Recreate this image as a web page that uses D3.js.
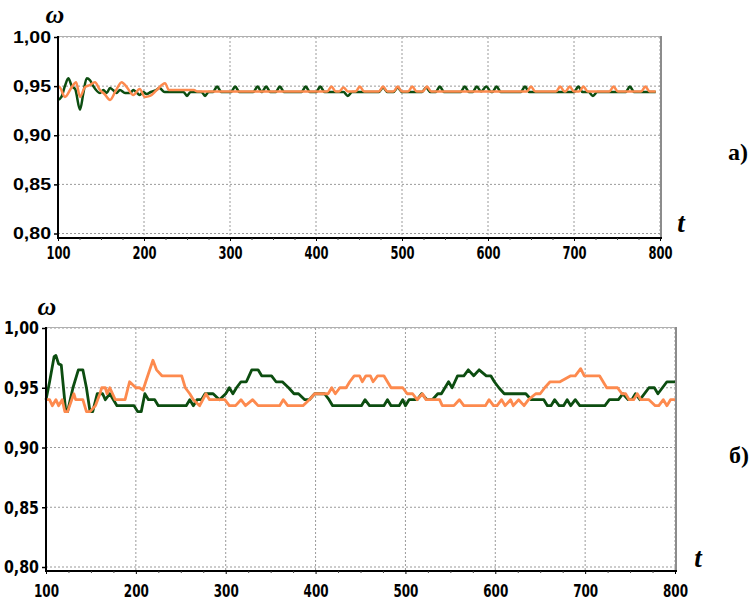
<!DOCTYPE html>
<html>
<head>
<meta charset="utf-8">
<script src="https://cdn.jsdelivr.net/npm/d3@7"></script>
<style>
  html, body { margin: 0; padding: 0; background: #fff; }
  svg { display: block; }
</style>
</head>
<body>
<svg id="chart" width="754" height="600"></svg>
<script>
// ---------- DATA ----------
const xTicks = [100, 200, 300, 400, 500, 600, 700, 800];
const yTicks = [0.80, 0.85, 0.90, 0.95, 1.00];
const xMinorTicks = [125,150,175,225,250,275,325,350,375,425,450,475,525,550,575,625,650,675,725,750,775];

// Panel а) — [t, ω]
const greenA = [
  [100,0.936],[104,0.939],[108,0.950],[112,0.958],[116,0.950],[120,0.947],[125.6,0.926],[129.5,0.943],
  [133.4,0.958],[137.2,0.956],[141,0.950],[148.8,0.943],[152.7,0.946],[156.6,0.943],[160.5,0.948],
  [164,0.946],[168,0.943],[172,0.946],[178,0.943],[184,0.943],[187.6,0.946],[191,0.944],[195,0.941],
  [199,0.944],[203,0.942],[208,0.944],[214,0.946],[218,0.948],[224,0.944],[246,0.944],[250,0.940],
  [254,0.944],[267,0.944],[271,0.940],[275,0.944],[280,0.944],[285,0.9495],[290,0.944],[301,0.944],
  [306,0.9495],[311,0.944],[327,0.944],[332,0.9495],[337,0.944],[342,0.9495],[347,0.944],[353,0.944],
  [358,0.9495],[363,0.944],[383,0.944],[388,0.9495],[393,0.944],[400,0.944],[405,0.9495],[410,0.944],
  [432,0.944],[437,0.940],[442,0.944],[473,0.944],[478,0.9485],[483,0.944],[490,0.944],[495,0.9485],
  [500,0.944],[523,0.944],[528,0.9485],[533,0.944],[539,0.944],[544,0.9495],[549,0.944],[568,0.944],
  [573,0.9495],[578,0.944],[582,0.944],[587,0.9495],[592,0.9445],[598,0.9495],[603,0.9445],[605,0.944],
  [610,0.9495],[615,0.944],[638,0.944],[643,0.9495],[648,0.944],[700,0.944],[705,0.9495],[710,0.944],
  [717,0.944],[722,0.940],[727,0.944],[760,0.944],[765,0.9495],[770,0.944],[795,0.944]
];
const orangeA = [
  [100,0.948],[101.6,0.949],[108,0.939],[116,0.949],[121,0.954],[125.6,0.939],[131.4,0.949],[137,0.951],
  [143,0.954],[148.8,0.946],[154,0.942],[160.5,0.936],[167,0.945],[174,0.954],[180,0.949],[187.6,0.941],
  [195,0.947],[201,0.939],[207,0.940],[214.8,0.946],[224.4,0.953],[229,0.946],[258,0.946],[262,0.9445],
  [413,0.9445],[418,0.9495],[423,0.9445],[427,0.9445],[432,0.9485],[437,0.9445],[446,0.9445],[451,0.9495],
  [456,0.9445],[473,0.9445],[478,0.9495],[483,0.9445],[490,0.9445],[495,0.9495],[500,0.9445],[507,0.9445],
  [512,0.9495],[517,0.9445],[524,0.9445],[529,0.9495],[534,0.9445],[645,0.9445],[650,0.9495],[655,0.9445],
  [679,0.9445],[684,0.9495],[689,0.9445],[690,0.9445],[695,0.9495],[700,0.9445],[706,0.9445],[711,0.9495],
  [716,0.9445],[741,0.9445],[746,0.9495],[751,0.9445],[778,0.9445],[783,0.9495],[788,0.9445],[795,0.9445]
];

// Panel б) — [t, ω]
const greenB = [
  [100,0.94],[104,0.955],[109,0.976],[111,0.977],[114,0.970],[117,0.969],[122,0.93],[124,0.93],[130,0.95],
  [136,0.965],[141,0.965],[145,0.95],[149,0.93],[152,0.93],[157,0.945],[163,0.945],[166,0.94],[171,0.945],
  [175,0.94],[179,0.935],[198,0.935],[202,0.93],[206,0.93],[210,0.945],[214,0.94],[221,0.94],[225,0.935],
  [256,0.935],[260,0.94],[264,0.935],[268,0.94],[273,0.94],[277,0.945],[286,0.945],[293,0.94],[300,0.945],
  [304,0.95],[308,0.945],[312,0.95],[317,0.955],[323,0.955],[329,0.965],[336,0.965],[340,0.96],[351,0.96],
  [356,0.955],[363,0.955],[370,0.95],[376,0.945],[381,0.945],[388,0.94],[393,0.94],[399,0.945],[410,0.945],
  [415,0.94],[419,0.935],[451,0.935],[455,0.94],[460,0.935],[476,0.935],[480,0.94],[484,0.935],[493,0.935],
  [497,0.94],[500,0.935],[504,0.94],[513,0.94],[518,0.945],[524,0.94],[530,0.94],[536,0.945],[540,0.945],
  [544,0.95],[548,0.955],[552,0.95],[558,0.96],[565,0.96],[570,0.965],[576,0.96],[582,0.965],[590,0.96],
  [595,0.96],[599,0.955],[604,0.95],[610,0.945],[634,0.945],[640,0.94],[654,0.94],[658,0.935],[662,0.935],
  [666,0.94],[671,0.935],[676,0.935],[680,0.94],[684,0.935],[689,0.94],[694,0.935],[722,0.935],[727,0.94],
  [737,0.94],[742,0.945],[748,0.94],[752,0.94],[756,0.945],[761,0.94],[771,0.95],[777,0.95],[781,0.945],
  [786,0.95],[791,0.955],[800,0.955]
];
const orangeB = [
  [100,0.94],[104,0.94],[107,0.935],[111,0.94],[114,0.935],[118,0.94],[121,0.93],[124,0.93],[131,0.945],
  [133,0.94],[141,0.94],[145,0.93],[149,0.93],[155,0.935],[160,0.945],[162,0.95],[166,0.95],[168,0.945],
  [171,0.95],[177,0.94],[188,0.94],[193,0.955],[200,0.95],[204,0.95],[208,0.948],[211,0.955],[219,0.973],
  [223,0.965],[229,0.96],[251,0.96],[255,0.95],[260,0.945],[264,0.94],[271,0.935],[278,0.945],[282,0.94],
  [299,0.94],[304,0.935],[311,0.935],[317,0.94],[322,0.935],[330,0.94],[336,0.935],[360,0.935],[364,0.94],
  [369,0.935],[386,0.935],[393,0.94],[399,0.945],[414,0.945],[418,0.95],[422,0.945],[427,0.95],[434,0.95],
  [438,0.955],[443,0.96],[449,0.96],[452,0.955],[456,0.96],[461,0.96],[464,0.955],[469,0.96],[476,0.96],
  [480,0.955],[484,0.95],[497,0.95],[502,0.945],[508,0.945],[513,0.94],[519,0.945],[523,0.94],[538,0.94],
  [541,0.935],[554,0.935],[560,0.94],[565,0.935],[589,0.935],[593,0.94],[598,0.935],[602,0.935],[607,0.94],
  [611,0.935],[617,0.94],[620,0.935],[626,0.94],[632,0.935],[637,0.94],[645,0.945],[650,0.945],[655,0.95],
  [661,0.955],[667,0.955],[672,0.955],[684,0.96],[689,0.96],[695,0.966],[699,0.96],[716,0.96],[720,0.955],
  [724,0.95],[736,0.95],[741,0.945],[745,0.945],[749,0.94],[754,0.94],[758,0.945],[762,0.94],[771,0.94],
  [778,0.935],[782,0.935],[787,0.94],[791,0.935],[795,0.94],[800,0.94]
];

// ---------- STYLE ----------
const GREEN = "#0c4d10";
const ORANGE = "#fd8a4e";
const narrow = "'Liberation Sans Narrow','Arial Narrow','DejaVu Sans Condensed',sans-serif";
const wide = "'Liberation Sans',Arial,sans-serif";
const serif = "'Liberation Serif','Times New Roman',serif";

const svg = d3.select("#chart");
const fmt = v => d3.format(".2f")(v).replace(".", ",");

const panels = [
  { left: 58, right: 660, top: 37, y80: 233.5, bottom: 238, green: greenA, orange: orangeA,
    curve: d3.curveMonotoneX, lw: 2.5,
    yFont: wide, yFs: 16, yLen: 38, xFs: 18, xLen: 24, xBase: 259,
    omega: [55, 23], tPos: [681, 232], tag: "а)", tagPos: [738, 160] },
  { left: 46, right: 675, top: 328, y80: 567, bottom: 571, green: greenB, orange: orangeB,
    curve: d3.curveLinear, lw: 2.8,
    yFont: narrow, yFs: 18, yLen: 35, xFs: 18, xLen: 25, xBase: 597,
    omega: [47, 315], tPos: [698, 567], tag: "б)", tagPos: [739, 463] }
];

panels.forEach(p => {
  const x = d3.scaleLinear().domain([100, 800]).range([p.left, p.right]);
  const y = d3.scaleLinear().domain([0.80, 1.00]).range([p.y80, p.top]);
  const g = svg.append("g");

  // grid
  g.append("g").selectAll("line").data(xTicks.slice(1)).join("line")
    .attr("x1", d => x(d)).attr("x2", d => x(d))
    .attr("y1", p.top).attr("y2", p.bottom)
    .attr("stroke", "#9a9a9a").attr("stroke-width", 1).attr("stroke-dasharray", "2,2");
  g.append("g").selectAll("line").data(yTicks).join("line")
    .attr("x1", p.left).attr("x2", p.right)
    .attr("y1", d => y(d)).attr("y2", d => y(d))
    .attr("stroke", "#9a9a9a").attr("stroke-width", 1).attr("stroke-dasharray", "2,2");

  // frame top/right (gray)
  g.append("line").attr("x1", p.left).attr("x2", p.right + 1).attr("y1", p.top - 0.5).attr("y2", p.top - 0.5)
    .attr("stroke", "#b0b0b0").attr("stroke-width", 1);
  g.append("line").attr("x1", p.right + 1).attr("x2", p.right + 1).attr("y1", p.top - 1).attr("y2", p.bottom + 1)
    .attr("stroke", "#8c8c8c").attr("stroke-width", 2);

  // series
  const line = d3.line().x(d => x(d[0])).y(d => y(d[1])).curve(p.curve);
  g.append("path").datum(p.green).attr("d", line).attr("fill", "none")
    .attr("stroke", GREEN).attr("stroke-width", p.lw).attr("stroke-linejoin", "round");
  g.append("path").datum(p.orange).attr("d", line).attr("fill", "none")
    .attr("stroke", ORANGE).attr("stroke-width", p.lw).attr("stroke-linejoin", "round");

  // left axis
  const ya = g.append("g").attr("transform", `translate(${p.left},0)`)
    .call(d3.axisLeft(y).tickValues(yTicks).tickSize(4).tickPadding(3).tickFormat(fmt));
  ya.select(".domain").attr("d", `M0,${p.top - 1}V${p.bottom + 1}`).attr("stroke", "#000").attr("stroke-width", 2);
  ya.selectAll(".tick line").attr("stroke", "#000").attr("stroke-width", 1.5);
  ya.selectAll(".tick text")
    .attr("font-family", p.yFont).attr("font-weight", "bold").attr("font-size", p.yFs).attr("fill", "#000")
    .attr("textLength", p.yLen).attr("lengthAdjust", "spacingAndGlyphs");

  // bottom axis
  const xa = g.append("g").attr("transform", `translate(0,${p.bottom})`)
    .call(d3.axisBottom(x).tickValues(xTicks).tickSize(3).tickPadding(5).tickFormat(d3.format("d")));
  xa.select(".domain").attr("d", `M${p.left - 1},0H${p.right + 2}`).attr("stroke", "#000").attr("stroke-width", 2);
  xa.selectAll(".tick line").attr("stroke", "#000").attr("stroke-width", 1);
  xa.selectAll(".tick text")
    .attr("font-family", narrow).attr("font-weight", "bold").attr("font-size", p.xFs).attr("fill", "#000")
    .attr("y", null).attr("dy", null)
    .attr("transform", `translate(0,${p.xBase - p.bottom})`)
    .attr("textLength", p.xLen).attr("lengthAdjust", "spacingAndGlyphs");
  g.append("g").attr("transform", `translate(0,${p.bottom})`)
    .call(d3.axisBottom(x).tickValues(xMinorTicks).tickSize(2).tickFormat(""))
    .call(s => s.select(".domain").remove())
    .selectAll(".tick line").attr("stroke", "#444").attr("stroke-width", 1);

  // labels
  g.append("text").attr("x", p.omega[0]).attr("y", p.omega[1]).attr("text-anchor", "middle")
    .attr("font-family", serif).attr("font-style", "italic").attr("font-weight", "bold")
    .attr("font-size", 26).text("ω");
  g.append("text").attr("x", p.tPos[0]).attr("y", p.tPos[1]).attr("text-anchor", "middle")
    .attr("font-family", serif).attr("font-style", "italic").attr("font-weight", "bold")
    .attr("font-size", 27).text("t");
  g.append("text").attr("x", p.tagPos[0]).attr("y", p.tagPos[1]).attr("text-anchor", "middle")
    .attr("font-family", serif).attr("font-weight", "bold")
    .attr("font-size", 24).text(p.tag);
});
</script>
</body>
</html>
